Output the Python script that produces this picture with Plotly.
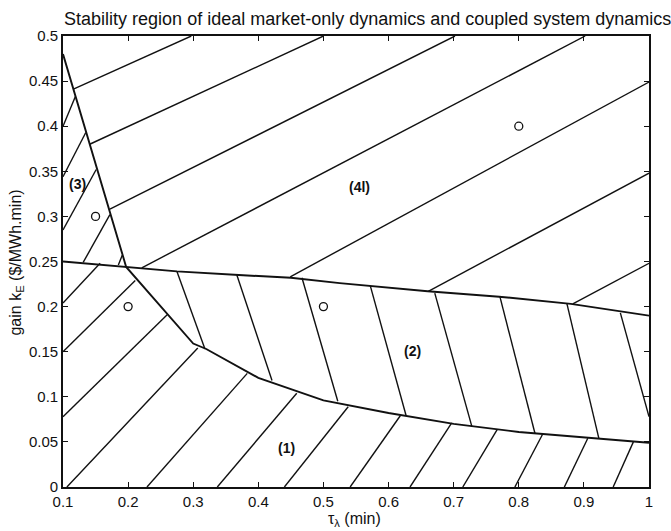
import plotly.graph_objects as go

# Boundary curves of the stability regions (tau_lambda in min, gain k_E in $/MWh.min)
boundary_a_x = [0.1, 0.197, 0.30, 0.32, 0.40, 0.50, 0.60, 0.70, 0.80, 0.90, 1.0]
boundary_a_y = [0.48, 0.244, 0.159, 0.153, 0.121, 0.096, 0.082, 0.070, 0.061, 0.055, 0.049]

boundary_b_x = [0.1, 0.197, 0.275, 0.37, 0.45, 0.525, 0.57, 0.66, 0.77, 0.88, 1.0]
boundary_b_y = [0.25, 0.244, 0.239, 0.235, 0.232, 0.226, 0.223, 0.217, 0.211, 0.203, 0.19]

# Hatch segments for each region: (x0, y0, x1, y1)
hatch_region1 = [
    (0.1, 0.204, 0.157, 0.248),
    (0.1, 0.150, 0.211, 0.229),
    (0.1, 0.078, 0.260, 0.191),
    (0.106, 0.0, 0.307, 0.154),
    (0.229, 0.0, 0.383, 0.126),
    (0.337, 0.0, 0.459, 0.104),
    (0.440, 0.0, 0.538, 0.089),
    (0.541, 0.0, 0.618, 0.079),
    (0.633, 0.0, 0.697, 0.071),
    (0.714, 0.0, 0.767, 0.064),
    (0.794, 0.0, 0.837, 0.059),
    (0.870, 0.0, 0.906, 0.054),
    (0.945, 0.0, 0.976, 0.050),
]
hatch_region2 = [
    (0.275, 0.239, 0.318, 0.153),
    (0.367, 0.235, 0.421, 0.118),
    (0.467, 0.232, 0.522, 0.095),
    (0.572, 0.223, 0.627, 0.079),
    (0.671, 0.215, 0.728, 0.067),
    (0.771, 0.211, 0.825, 0.059),
    (0.874, 0.203, 0.923, 0.054),
    (0.956, 0.193, 1.0, 0.078),
]
hatch_region3 = [
    (0.1, 0.400, 0.119, 0.433),
    (0.1, 0.344, 0.135, 0.393),
    (0.1, 0.285, 0.151, 0.352),
    (0.131, 0.249, 0.172, 0.302),
    (0.185, 0.246, 0.191, 0.257),
]
hatch_region4 = [
    (0.116, 0.441, 0.297, 0.5),
    (0.141, 0.380, 0.5, 0.5),
    (0.172, 0.308, 0.702, 0.5),
    (0.221, 0.243, 0.902, 0.5),
    (0.449, 0.233, 1.0, 0.449),
    (0.661, 0.217, 1.0, 0.348),
    (0.883, 0.203, 1.0, 0.248),
]

# Test points
test_x = [0.15, 0.2, 0.5, 0.8]
test_y = [0.3, 0.2, 0.2, 0.4]

# Region labels
label_text = ["(1)", "(2)", "(3)", "(4l)"]
label_x = [0.443, 0.636, 0.1215, 0.556]
label_y = [0.043, 0.151, 0.336, 0.333]

x_ticks = [0.1, 0.2, 0.3, 0.4, 0.5, 0.6, 0.7, 0.8, 0.9, 1.0]
x_tick_text = ["0.1", "0.2", "0.3", "0.4", "0.5", "0.6", "0.7", "0.8", "0.9", "1"]
y_ticks = [0, 0.05, 0.1, 0.15, 0.2, 0.25, 0.3, 0.35, 0.4, 0.45, 0.5]
y_tick_text = ["0", "0.05", "0.1", "0.15", "0.2", "0.25", "0.3", "0.35", "0.4", "0.45", "0.5"]


def segments_to_xy(segs):
    xs, ys = [], []
    for x0, y0, x1, y1 in segs:
        xs += [x0, x1, None]
        ys += [y0, y1, None]
    return xs, ys


FONT = "Liberation Sans, Arial, Helvetica, sans-serif"
INK = "#111111"
fig = go.Figure()

for segs in (hatch_region1, hatch_region2, hatch_region3, hatch_region4):
    hx, hy = segments_to_xy(segs)
    fig.add_trace(go.Scatter(x=hx, y=hy, mode="lines",
                             line=dict(color=INK, width=1.4),
                             hoverinfo="skip", showlegend=False))

fig.add_trace(go.Scatter(x=boundary_a_x, y=boundary_a_y, mode="lines",
                         line=dict(color=INK, width=1.9), showlegend=False))
fig.add_trace(go.Scatter(x=boundary_b_x, y=boundary_b_y, mode="lines",
                         line=dict(color=INK, width=1.9), showlegend=False))

fig.add_trace(go.Scatter(x=test_x, y=test_y, mode="markers",
                         marker=dict(symbol="circle-open", size=8,
                                     color=INK, line=dict(width=1.3)),
                         showlegend=False))

annotations = [
    dict(text=t, x=lx, y=ly, xref="x", yref="y", showarrow=False,
         xanchor="center", yanchor="middle",
         font=dict(family=FONT, size=14, color=INK, weight="bold"))
    for t, lx, ly in zip(label_text, label_x, label_y)
]
annotations += [
    dict(text="gain k<sub>E</sub> ($/MWh.min)", xref="paper", yref="paper",
         x=-0.079, y=0.497, xanchor="center", yanchor="middle",
         textangle=-90, showarrow=False,
         font=dict(family=FONT, size=16, color=INK)),
    dict(text="τ<sub>λ</sub> (min)", xref="paper", yref="paper",
         x=0.498, y=-0.073, xanchor="center", yanchor="middle",
         showarrow=False,
         font=dict(family=FONT, size=16, color=INK)),
]

axis_common = dict(showline=True, linecolor=INK, linewidth=1.6,
                   mirror="ticks", ticks="inside", ticklen=5, tickwidth=1.2,
                   tickcolor=INK, showgrid=False, zeroline=False,
                   tickfont=dict(family=FONT, size=15, color=INK))

fig.update_xaxes(range=[0.1, 1.0], tickvals=x_ticks, ticktext=x_tick_text,
                 **axis_common)
fig.update_yaxes(range=[0, 0.5], tickvals=y_ticks, ticktext=y_tick_text,
                 **axis_common)

fig.update_layout(
    width=671, height=531,
    margin=dict(l=63, r=22, t=36, b=44),
    paper_bgcolor="white", plot_bgcolor="white",
    title=dict(text="Stability region of ideal market-only dynamics and coupled system dynamics",
               font=dict(family=FONT, size=18, color=INK),
               x=0.548, xanchor="center", y=0.964, yanchor="middle"),
    annotations=annotations,
)

fig.write_html("out.html")
